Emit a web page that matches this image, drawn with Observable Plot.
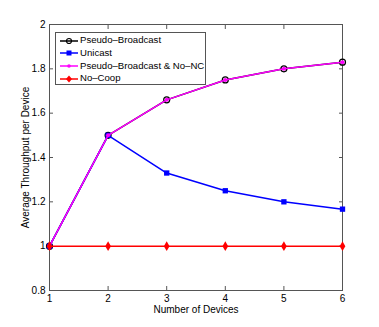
<!DOCTYPE html>
<html>
<head>
<meta charset="utf-8">
<script src="https://cdn.jsdelivr.net/npm/d3@7"></script>
<script src="https://cdn.jsdelivr.net/npm/@observablehq/plot@0.6"></script>
<style>
html,body{margin:0;padding:0;background:#fff;}
#wrap{position:relative;width:379px;height:327px;font-family:"Liberation Sans",Arial,sans-serif;}
#legend{position:absolute;left:55px;top:32px;width:151px;height:53px;border:1px solid #555;background:#fff;box-sizing:border-box;font-size:9.6px;color:#000;white-space:nowrap;overflow:visible;}
#legend .row{display:flex;align-items:center;height:12.7px;line-height:12.7px;white-space:nowrap;}
#legend svg{margin-left:4px;margin-right:2px;flex:none;}
</style>
</head>
<body>
<div id="wrap"></div>
<script>
const devices = [1, 2, 3, 4, 5, 6];
const pseudoBroadcast = [1, 1.5, 1.66, 1.75, 1.8, 1.83];
const unicast = [1, 1.5, 1.33, 1.25, 1.2, 1.167];
const pseudoNoNC = [1, 1.5, 1.66, 1.75, 1.8, 1.83];
const noCoop = [1, 1, 1, 1, 1, 1];
const seriesNames = ["Pseudo–Broadcast", "Unicast", "Pseudo–Broadcast & No–NC", "No–Coop"];
const seriesColors = ["black", "blue", "magenta", "red"];
const xTicks = [1, 2, 3, 4, 5, 6];
const yTicks = [0.8, 1, 1.2, 1.4, 1.6, 1.8, 2];

const mk = (vals) => devices.map((d, i) => ({x: d, y: vals[i]}));
const pb = mk(pseudoBroadcast), uc = mk(unicast), nn = mk(pseudoNoNC), nc = mk(noCoop);

const plot = Plot.plot({
  width: 379, height: 327,
  marginLeft: 49, marginRight: 37, marginTop: 24, marginBottom: 37,
  style: {fontFamily: "Liberation Sans, Arial, sans-serif", fontSize: "10px", color: "black", background: "white"},
  x: {domain: [1, 6]},
  y: {domain: [0.8, 2]},
  marks: [
    Plot.frame({stroke: "#555"}),
    Plot.axisX(xTicks, {anchor: "bottom", tickSize: -4, tickPadding: 8, stroke: "#555", tickFormat: d => String(d), label: "Number of Devices", labelAnchor: "center", labelOffset: 22, labelArrow: "none"}),
    Plot.axisX(xTicks, {anchor: "top", tickSize: -4, stroke: "#555", tickFormat: () => "", label: null}),
    Plot.axisY(yTicks, {anchor: "left", tickSize: -4, tickPadding: 8, stroke: "#555", tickFormat: d => String(d), label: "Average Throughput per Device", labelAnchor: "center", labelOffset: 28, labelArrow: "none"}),
    Plot.axisY(yTicks, {anchor: "right", tickSize: -4, stroke: "#555", tickFormat: () => "", label: null}),
    Plot.line(pb, {x: "x", y: "y", stroke: seriesColors[0], strokeWidth: 1.5}),
    Plot.dot(pb, {x: "x", y: "y", r: 3, stroke: seriesColors[0], fill: "none", strokeWidth: 1.2}),
    Plot.line(uc, {x: "x", y: "y", stroke: seriesColors[1], strokeWidth: 1.5}),
    Plot.dot(uc, {x: "x", y: "y", r: 3, symbol: "square", fill: seriesColors[1]}),
    Plot.line(nn, {x: "x", y: "y", stroke: seriesColors[2], strokeWidth: 1.5}),
    Plot.dot(nn, {x: "x", y: "y", r: 2, fill: seriesColors[2]}),
    Plot.line(nc, {x: "x", y: "y", stroke: seriesColors[3], strokeWidth: 1.5}),
    Plot.dot(nc, {x: "x", y: "y", r: 3, symbol: "diamond", fill: seriesColors[3]})
  ]
});
const wrap = document.getElementById("wrap");
wrap.appendChild(plot);

const legend = document.createElement("div");
legend.id = "legend";
legend.style.paddingTop = "1.3px";
const markerSvg = [
  '<circle cx="9" cy="4" r="2.5" fill="none" stroke="black" stroke-width="1.2"/>',
  '<rect x="6.5" y="1.5" width="5" height="5" fill="blue"/>',
  '<circle cx="9" cy="4" r="1.8" fill="magenta"/>',
  '<path d="M9,0.5L12,4L9,7.5L6,4Z" fill="red"/>'
];
seriesNames.forEach((name, i) => {
  const row = document.createElement("div");
  row.className = "row";
  row.innerHTML = `<svg width="18" height="8"><line x1="0" y1="4" x2="18" y2="4" stroke="${seriesColors[i]}" stroke-width="1.5"/>${markerSvg[i]}</svg><span>${name}</span>`;
  legend.appendChild(row);
});
wrap.appendChild(legend);
</script>
</body>
</html>
